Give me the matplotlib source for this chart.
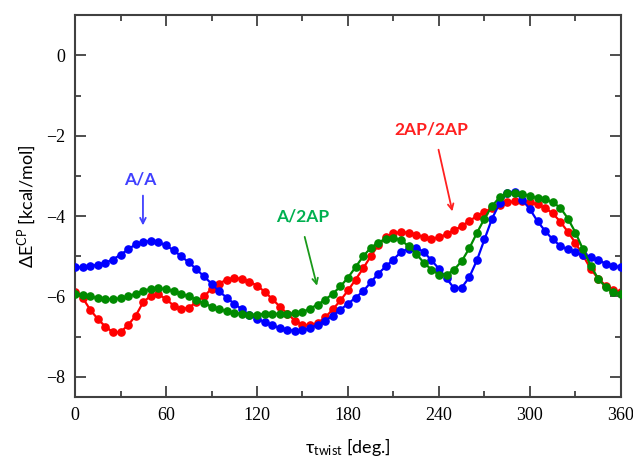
import numpy as np
import matplotlib
matplotlib.use('Agg')
import matplotlib.pyplot as plt
from matplotlib.ticker import MultipleLocator

plt.rcParams['mathtext.default'] = 'regular'

# torsion angle grid (every 5 deg)
tau = np.arange(0, 361, 5)

# A/A
e_aa = [-5.27, -5.27, -5.24, -5.21, -5.16, -5.08, -4.96, -4.83, -4.70, -4.64,
        -4.62, -4.65, -4.73, -4.85, -5.00, -5.15, -5.32, -5.50, -5.68, -5.87,
        -6.03, -6.18, -6.32, -6.46, -6.56, -6.63, -6.72, -6.78, -6.83, -6.85,
        -6.84, -6.79, -6.70, -6.60, -6.48, -6.33, -6.18, -6.03, -5.87, -5.65,
        -5.43, -5.25, -5.08, -4.89, -4.81, -4.79, -4.89, -5.10, -5.31, -5.55,
        -5.80, -5.78, -5.52, -5.10, -4.58, -4.06, -3.68, -3.42, -3.39, -3.60,
        -3.83, -4.13, -4.37, -4.58, -4.74, -4.83, -4.90, -4.97, -5.03, -5.10,
        -5.18, -5.24, -5.27]

# 2AP/2AP
e_2ap = [-5.90, -6.03, -6.33, -6.56, -6.75, -6.89, -6.89, -6.71, -6.48, -6.14,
         -5.98, -5.95, -6.06, -6.23, -6.31, -6.28, -6.14, -6.00, -5.81, -5.68,
         -5.58, -5.54, -5.56, -5.63, -5.73, -5.88, -6.06, -6.25, -6.43, -6.60,
         -6.70, -6.72, -6.66, -6.52, -6.32, -6.10, -5.85, -5.58, -5.30, -5.00,
         -4.72, -4.52, -4.42, -4.40, -4.41, -4.46, -4.52, -4.56, -4.53, -4.45,
         -4.35, -4.25, -4.12, -4.00, -3.90, -3.80, -3.72, -3.66, -3.63, -3.63,
         -3.66, -3.71, -3.80, -3.93, -4.14, -4.39, -4.67, -4.98, -5.31, -5.56,
         -5.73, -5.83, -5.90]

# A/2AP
e_a2ap = [-5.93, -5.96, -6.00, -6.04, -6.06, -6.07, -6.04, -6.00, -5.93, -5.86,
          -5.81, -5.79, -5.82, -5.87, -5.93, -6.00, -6.08, -6.17, -6.25, -6.31,
          -6.37, -6.41, -6.43, -6.45, -6.45, -6.43, -6.43, -6.43, -6.43, -6.42,
          -6.39, -6.30, -6.20, -6.08, -5.93, -5.75, -5.53, -5.27, -5.00, -4.79,
          -4.66, -4.56, -4.54, -4.60, -4.75, -4.94, -5.16, -5.33, -5.46, -5.46,
          -5.33, -5.12, -4.80, -4.42, -4.06, -3.75, -3.53, -3.43, -3.42, -3.45,
          -3.50, -3.55, -3.58, -3.66, -3.79, -4.06, -4.41, -4.83, -5.23, -5.56,
          -5.77, -5.89, -5.95]

fig = plt.figure(figsize=(6.33, 4.61), dpi=100)
ax = fig.add_axes([0.1185, 0.139, 0.8625, 0.828])

ax.plot(tau, e_aa, '-o', color='#0000ff', lw=1.6, ms=5.2, zorder=3)
ax.plot(tau, e_a2ap, '-o', color='#008a00', lw=1.6, ms=5.2, zorder=4)
ax.plot(tau, e_2ap, '-o', color='#ff0000', lw=1.6, ms=5.2, zorder=2)

ax.set_xlim(0, 360)
ax.set_ylim(-8.5, 1)
ax.xaxis.set_major_locator(MultipleLocator(60))
ax.xaxis.set_minor_locator(MultipleLocator(30))
ax.yaxis.set_major_locator(MultipleLocator(2))
ax.yaxis.set_minor_locator(MultipleLocator(1))
ax.tick_params(which='both', direction='in', top=True, right=True,
               color='#404040', width=1.3)
ax.tick_params(which='major', length=8, labelsize=13, pad=7)
ax.tick_params(which='minor', length=4)
for lab in ax.get_xticklabels() + ax.get_yticklabels():
    lab.set_fontfamily('Liberation Serif')
for s in ax.spines.values():
    s.set_color('#404040')
    s.set_linewidth(1.5)

ax.set_xlabel(r'$\tau_{twist}$ [deg.]', fontsize=13, family='Lato', labelpad=9)
ax.set_ylabel(r'$\Delta E^{CP}$ [kcal/mol]', fontsize=13, family='Lato', labelpad=6)

# labels with arrows
ax.annotate('', xy=(44.8, -4.3), xytext=(44.8, -3.42),
            arrowprops=dict(arrowstyle='->', color='#4040ff', lw=1.3))
ax.text(42.8, -3.1, 'A/A', color='#4040ff', fontsize=12.5, fontweight='bold',
        family='Lato', ha='center', va='center')

ax.annotate('', xy=(160, -5.8), xytext=(151, -4.45),
            arrowprops=dict(arrowstyle='->', color='#1a991a', lw=1.3))
ax.text(150.3, -4.0, 'A/2AP', color='#00b050', fontsize=12.5, fontweight='bold',
        family='Lato', ha='center', va='center')

ax.annotate('', xy=(249.2, -3.95), xytext=(239.3, -2.28),
            arrowprops=dict(arrowstyle='->', color='#ff2020', lw=1.3))
ax.text(234.7, -1.85, '2AP/2AP', color='#ff2020', fontsize=12.5, fontweight='bold',
        family='Lato', ha='center', va='center')

fig.savefig('out.png', dpi=100)
